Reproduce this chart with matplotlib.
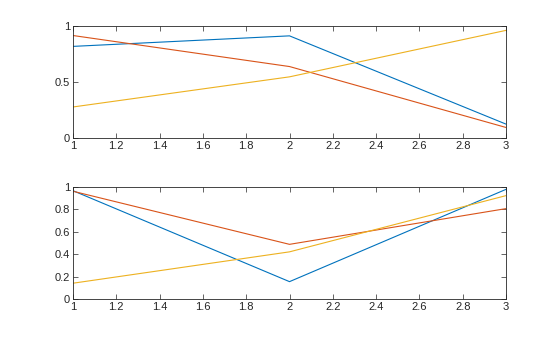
import matplotlib
matplotlib.use("Agg")
import matplotlib.pyplot as plt
from matplotlib.ticker import FormatStrFormatter, FuncFormatter

# Data
x = [1, 2, 3]
topBlue = [0.818, 0.912, 0.124]
topOrange = [0.915, 0.638, 0.094]
topYellow = [0.277, 0.546, 0.961]
botBlue = [0.967, 0.155, 0.979]
botOrange = [0.962, 0.488, 0.807]
botYellow = [0.141, 0.421, 0.923]

colors = ["#0072BD", "#D95319", "#EDB120"]
xTicks = [1, 1.2, 1.4, 1.6, 1.8, 2, 2.2, 2.4, 2.6, 2.8, 3]

plt.rcParams['font.family'] = ['Liberation Sans', 'DejaVu Sans']
plt.rcParams['font.size'] = 8

fig = plt.figure(figsize=(5.6, 3.37), dpi=100)
W, H = 560, 337
ax1 = fig.add_axes([73 / W, 1 - 138 / H, 433 / W, 112 / H])
ax2 = fig.add_axes([73 / W, 1 - 299 / H, 433 / W, 112 / H])

def fmt(v, pos):
    return "%g" % round(v, 4)

def styleAxis(ax, yTicks):
    ax.set_xlim(1, 3)
    ax.set_ylim(0, 1)
    ax.set_xticks(xTicks)
    ax.set_yticks(yTicks)
    ax.xaxis.set_major_formatter(FuncFormatter(fmt))
    ax.yaxis.set_major_formatter(FuncFormatter(fmt))
    ax.tick_params(direction="in", length=3.5, width=0.5, colors="#262626",
                   top=True, right=True, labelsize=8, pad=2)
    for s in ax.spines.values():
        s.set_linewidth(0.6)
        s.set_color("#262626")

ax1.plot(x, topBlue, color=colors[0], lw=0.8)
ax1.plot(x, topOrange, color=colors[1], lw=0.8)
ax1.plot(x, topYellow, color=colors[2], lw=0.8)
styleAxis(ax1, [0, 0.5, 1])

ax2.plot(x, botBlue, color=colors[0], lw=0.8)
ax2.plot(x, botOrange, color=colors[1], lw=0.8)
ax2.plot(x, botYellow, color=colors[2], lw=0.8)
styleAxis(ax2, [0, 0.2, 0.4, 0.6, 0.8, 1])

fig.savefig("out.png", dpi=100, facecolor="white")
